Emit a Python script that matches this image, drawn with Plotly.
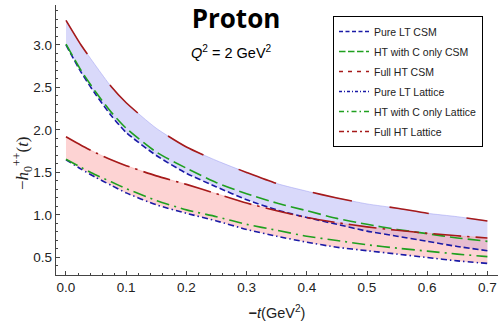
import plotly.graph_objects as go

t = [0.0, 0.025, 0.05, 0.075, 0.1, 0.15, 0.2, 0.25, 0.3, 0.35, 0.4, 0.45, 0.5, 0.55, 0.6, 0.65, 0.7]

pure_lt_csm = [3.00, 2.68, 2.41, 2.17, 1.97, 1.70, 1.49, 1.33, 1.18, 1.06, 0.97, 0.89, 0.81, 0.75, 0.69, 0.63, 0.58]
ht_c_csm = [3.01, 2.70, 2.44, 2.21, 2.02, 1.74, 1.55, 1.38, 1.25, 1.14, 1.05, 0.96, 0.89, 0.83, 0.78, 0.73, 0.69]
full_ht_csm = [3.29, 3.00, 2.75, 2.51, 2.32, 2.02, 1.80, 1.64, 1.50, 1.37, 1.28, 1.20, 1.13, 1.08, 1.02, 0.98, 0.93]
pure_lt_lat = [1.65, 1.54, 1.44, 1.35, 1.26, 1.12, 1.02, 0.93, 0.83, 0.75, 0.68, 0.62, 0.58, 0.54, 0.50, 0.46, 0.43]
ht_c_lat = [1.655, 1.56, 1.47, 1.39, 1.31, 1.17, 1.06, 0.98, 0.89, 0.82, 0.75, 0.70, 0.65, 0.61, 0.575, 0.54, 0.51]
full_ht_lat = [1.92, 1.82, 1.73, 1.65, 1.58, 1.46, 1.36, 1.25, 1.14, 1.05, 0.97, 0.91, 0.86, 0.82, 0.785, 0.755, 0.73]

names = ["Pure LT CSM", "HT with C only CSM", "Full HT CSM",
         "Pure LT Lattice", "HT with C only Lattice", "Full HT Lattice"]

BLUE = "#1a1aa6"
GREEN = "#1fa01f"
RED = "#a61a1a"

W, H = 499, 321
ML, MR, MT, MB = 56, 1, 5, 46
PW, PH = W - ML - MR, H - MT - MB

def px(xp):
    return (xp - ML) / PW

def py(yp):
    return (H - MB - yp) / PH

fig = go.Figure()

SPL = dict(shape="spline", smoothing=0.6)

# bands
fig.add_trace(go.Scatter(x=t, y=pure_lt_csm, mode="lines", line=dict(width=0, color="rgba(150,150,240,0.6)", **SPL),
                         showlegend=False, hoverinfo="skip"))
fig.add_trace(go.Scatter(x=t, y=full_ht_csm, mode="lines", line=dict(width=0.8, color="rgba(150,150,240,0.6)", **SPL),
                         fill="tonexty", fillcolor="rgba(170,170,245,0.45)", showlegend=False, hoverinfo="skip"))
fig.add_trace(go.Scatter(x=t, y=pure_lt_lat, mode="lines", line=dict(width=0, color="rgba(250,160,160,0.6)", **SPL),
                         showlegend=False, hoverinfo="skip"))
fig.add_trace(go.Scatter(x=t, y=full_ht_lat, mode="lines", line=dict(width=0.8, color="rgba(250,160,160,0.6)", **SPL),
                         fill="tonexty", fillcolor="rgba(250,150,150,0.42)", showlegend=False, hoverinfo="skip"))

series = [pure_lt_csm, ht_c_csm, full_ht_csm, pure_lt_lat, ht_c_lat, full_ht_lat]
colors = [BLUE, GREEN, RED, BLUE, GREEN, RED]
dashes = ["6px,3px", "13px,5px", "40px,38px",
          "6px,3px,1.5px,3px", "13px,5px,2px,5px", "28px,6px,2.5px,6px"]
legend_dashes = ["4px,2.5px", "6.5px,2.5px", "4px,5px",
                 "3px,2px,1px,2px", "5px,3px,1.5px,3px", "5px,3px,2px,3px"]

for i, (y, c, d, n) in enumerate(zip(series, colors, dashes, names)):
    fig.add_trace(go.Scatter(x=t, y=y, mode="lines", name=n, showlegend=False,
                             line=dict(color=c, width=1.6, dash=d, **SPL)))

# legend entries (scaled dash patterns, as in the reference legend)
for i, (c, d, n) in enumerate(zip(colors, legend_dashes, names)):
    fig.add_trace(go.Scatter(x=[None], y=[None], mode="lines", name=n, legendgroup=str(i),
                             line=dict(color=c, width=1.4, dash=d)))

fig.update_layout(
    width=W, height=H,
    margin=dict(l=ML, r=MR, t=MT, b=MB),
    plot_bgcolor="white", paper_bgcolor="white",
    font=dict(family="Liberation Sans, Arial, sans-serif", size=13.5, color="#222"),
    title=dict(text="<b>Proton</b>", x=236/W, xanchor="center", y=1-19/H, yanchor="middle",
               font=dict(family="Open Sans, sans-serif", size=26, color="black")),
    legend=dict(x=px(333), y=py(16), xanchor="left", yanchor="top",
                bordercolor="black", borderwidth=1, bgcolor="white",
                font=dict(size=10.5, color="#222"), tracegroupgap=1, itemwidth=30),
    annotations=[
        dict(text="<i>Q</i><sup>2</sup> = 2 GeV<sup>2</sup>", x=px(231), y=py(52), xref="paper", yref="paper",
             xanchor="center", yanchor="middle", showarrow=False, font=dict(size=14.5, color="black")),
        dict(text="−<i>h</i><sub>0</sub><sup>++</sup>(<i>t</i>)", x=px(22), y=py(163), xref="paper", yref="paper",
             xanchor="center", yanchor="middle", showarrow=False, textangle=-90,
             font=dict(family="Liberation Serif, serif", size=17, color="#222")),
    ],
)

fig.update_xaxes(range=[-0.0166, 0.7176], showgrid=False, zeroline=False, showline=True, linecolor="#444", linewidth=1.3,
                 ticks="inside", ticklen=4, tickcolor="#444", tickwidth=1, dtick=0.1, tickformat=".1f",
                 minor=dict(ticks="inside", ticklen=2, dtick=0.02, tickcolor="#444"),
                 title=dict(text="<b>−</b><i>t</i>(GeV<sup>2</sup>)", font=dict(size=14.5, color="#222"), standoff=15))
fig.update_yaxes(range=[0.294, 3.47], showgrid=False, zeroline=False, showline=True, linecolor="#444", linewidth=1.3,
                 ticks="inside", ticklen=4, tickcolor="#444", tickwidth=1, dtick=0.5, tickformat=".1f",
                 minor=dict(ticks="inside", ticklen=2, dtick=0.1, tickcolor="#444"))

fig.write_html("out.html")
